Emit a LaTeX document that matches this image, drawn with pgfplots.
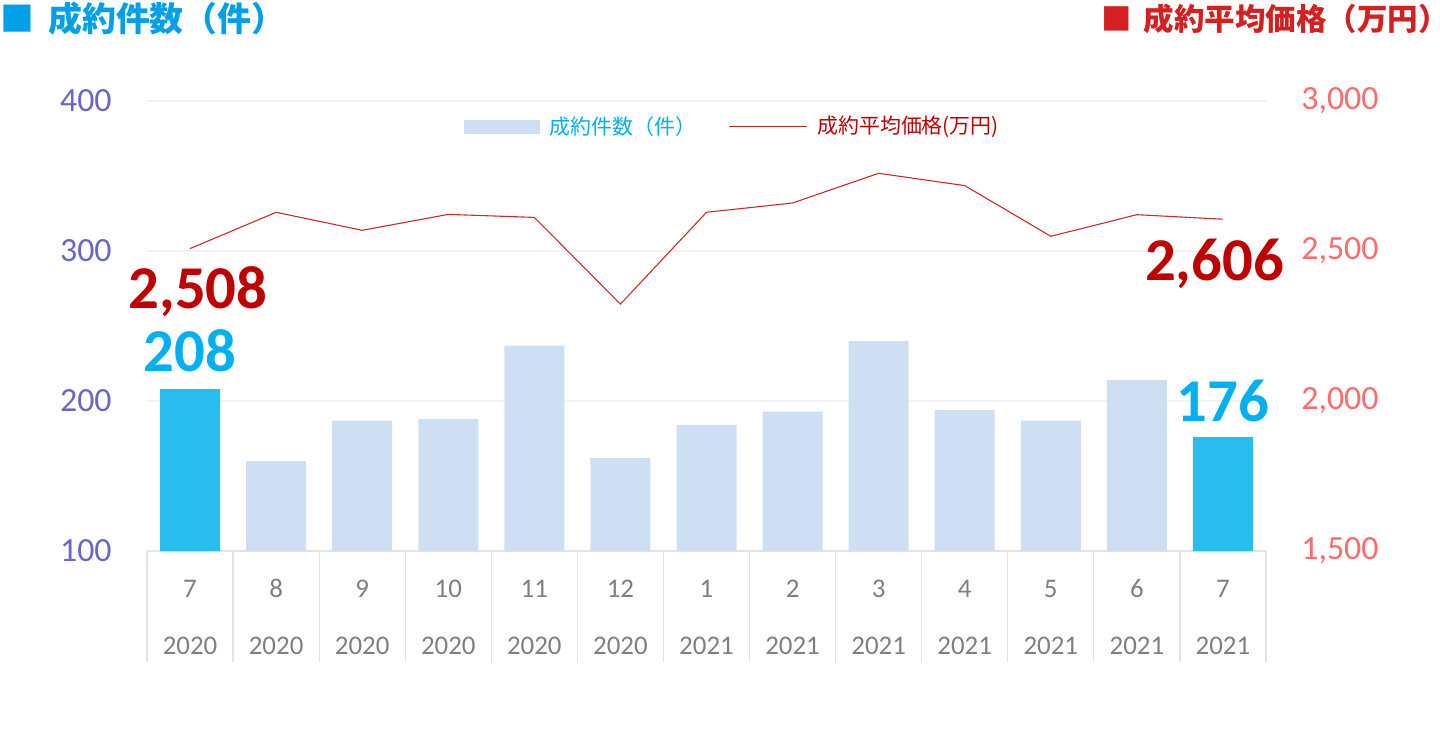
\documentclass[border=0pt]{standalone}
\usepackage{pgfplots}
\pgfplotsset{compat=1.18}
\usepackage{fontspec}
\setmainfont{Carlito}
\newfontfamily\jp{Noto Sans CJK JP}

\definecolor{barhi}{HTML}{29BDEF}
\definecolor{barlo}{HTML}{CFDFF3}
\definecolor{linered}{HTML}{CC2A2A}
\definecolor{lefttick}{HTML}{6666CC}
\definecolor{righttick}{HTML}{FF6B6B}
\definecolor{catgray}{HTML}{7F7F7F}
\definecolor{sepgray}{HTML}{E3E3E3}
\definecolor{gridgray}{HTML}{F2F2F2}
\definecolor{cyanlbl}{HTML}{00B0F0}
\definecolor{darkred}{HTML}{C00000}
\definecolor{titleblue}{HTML}{00A0E9}
\definecolor{titlered}{HTML}{D42020}

% two-line category label: month over year
\newcommand\ml[2]{\rule{0pt}{9.5bp}#1\\#2}

\begin{document}
\begin{tikzpicture}
\path[use as bounding box] (-73.5bp,-93.5bp) rectangle (646.5bp,275.5bp);

% left axis: counts (bars)
\begin{axis}[
    scale only axis, width=559.5bp, height=225bp,
    clip mode=individual,
    xmin=-0.5, xmax=12.5, ymin=100, ymax=400,
    ytick={100,200,300,400},
    axis x line*=bottom, axis y line*=left,
    y axis line style={draw=none},
    x axis line style={draw=sepgray, line width=0.6pt},
    ymajorgrids, grid style={draw=gridgray, line width=0.6pt},
    ytick style={draw=none}, xtick style={draw=none},
    xtick={0,...,12},
    xticklabels={{\ml{7}{2020}},{\ml{8}{2020}},{\ml{9}{2020}},{\ml{10}{2020}},
                 {\ml{11}{2020}},{\ml{12}{2020}},{\ml{1}{2021}},{\ml{2}{2021}},
                 {\ml{3}{2021}},{\ml{4}{2021}},{\ml{5}{2021}},{\ml{6}{2021}},
                 {\ml{7}{2021}}},
    xticklabel style={align=center, font=\fontsize{13.5}{28.5}\selectfont,
        text=catgray, inner sep=0pt, anchor=north, yshift=-9.5bp},
    yticklabel style={font=\fontsize{17}{20}\selectfont, text=lefttick,
        inner sep=0pt, anchor=east, xshift=-17.5bp},
    /pgf/number format/assume math mode=true,
    extra x ticks={-0.5,0.5,...,12.5}, extra x tick labels={},
    extra x tick style={major tick length=55.5bp, tick align=outside,
        xtick style={draw=sepgray, line width=0.6pt}},
    ybar, bar width=30bp,
]
\addplot[fill=barlo, draw=none, bar shift=0pt] coordinates {
    (1,160) (2,187) (3,188) (4,237) (5,162) (6,184)
    (7,193) (8,240) (9,194) (10,187) (11,214)
};
\addplot[fill=barhi, draw=none, bar shift=0pt] coordinates {
    (0,208) (12,176)
};
\node[anchor=south, inner sep=0pt, yshift=8.5bp, text=cyanlbl,
      font=\bfseries\fontsize{30.5}{31}\selectfont] at (axis cs:0,208) {208};
\node[anchor=south, inner sep=0pt, yshift=7.5bp, text=cyanlbl,
      font=\bfseries\fontsize{30.5}{31}\selectfont] at (axis cs:12,176) {176};
\end{axis}

% right axis: average price (line)
\begin{axis}[
    scale only axis, width=559.5bp, height=225bp,
    clip mode=individual,
    xmin=-0.5, xmax=12.5, ymin=1500, ymax=3000,
    ytick={1500,2000,2500,3000},
    axis y line*=right, axis x line=none,
    y axis line style={draw=none}, ytick style={draw=none},
    yticklabel style={font=\fontsize{17}{20}\selectfont, text=righttick,
        inner sep=0pt, anchor=west, xshift=17.5bp},
    /pgf/number format/assume math mode=true,
    /pgf/number format/1000 sep={,},
    legend columns=2,
    legend style={at={(0.524,0.985)}, anchor=north, draw=none, fill=none,
        font=\jp\fontsize{10.5}{12}\selectfont,
        /tikz/every odd column/.append style={column sep=3bp},
        /tikz/every even column/.append style={column sep=14bp}},
]
\addlegendimage{area legend, fill=barlo, draw=none,
    legend image code/.code={\fill[barlo] (0bp,-3.5bp) rectangle (38bp,3.5bp);}}
\addlegendentry{\textcolor{cyanlbl}{成約件数（件）}}
\addplot[linered, line width=0.55pt, mark=none,
    legend image code/.code={\draw[linered, line width=0.55pt] (0bp,0bp) -- (39bp,0bp);}]
    coordinates {
    (0,2508) (1,2629) (2,2569) (3,2622) (4,2612) (5,2323) (6,2629)
    (7,2660) (8,2759) (9,2718) (10,2549) (11,2621) (12,2606)
};
\addlegendentry{\textcolor{darkred}{成約平均価格(万円)}}
\node[anchor=base, inner sep=0pt, xshift=4bp, yshift=-30bp, text=darkred,
      font=\bfseries\fontsize{30.5}{31}\selectfont] at (axis cs:0,2508) {2,508};
\node[anchor=base, inner sep=0pt, xshift=-4.25bp, yshift=-30.5bp, text=darkred,
      font=\bfseries\fontsize{30.5}{31}\selectfont] at (axis cs:12,2606) {2,606};
\end{axis}

% titles
\node[anchor=west, inner sep=0pt, text=titleblue,
      font=\jp\bfseries\fontsize{17}{17}\selectfont] at (-73.5bp,266bp)
      {■\hspace{7bp}成約件数（件）};
\node[anchor=east, inner sep=0pt, text=titlered,
      font=\jp\bfseries\fontsize{15.3}{16}\selectfont] at (646.5bp,266bp)
      {■\hspace{6bp}成約平均価格（万円）\kern-4.5bp};
\end{tikzpicture}
\end{document}
